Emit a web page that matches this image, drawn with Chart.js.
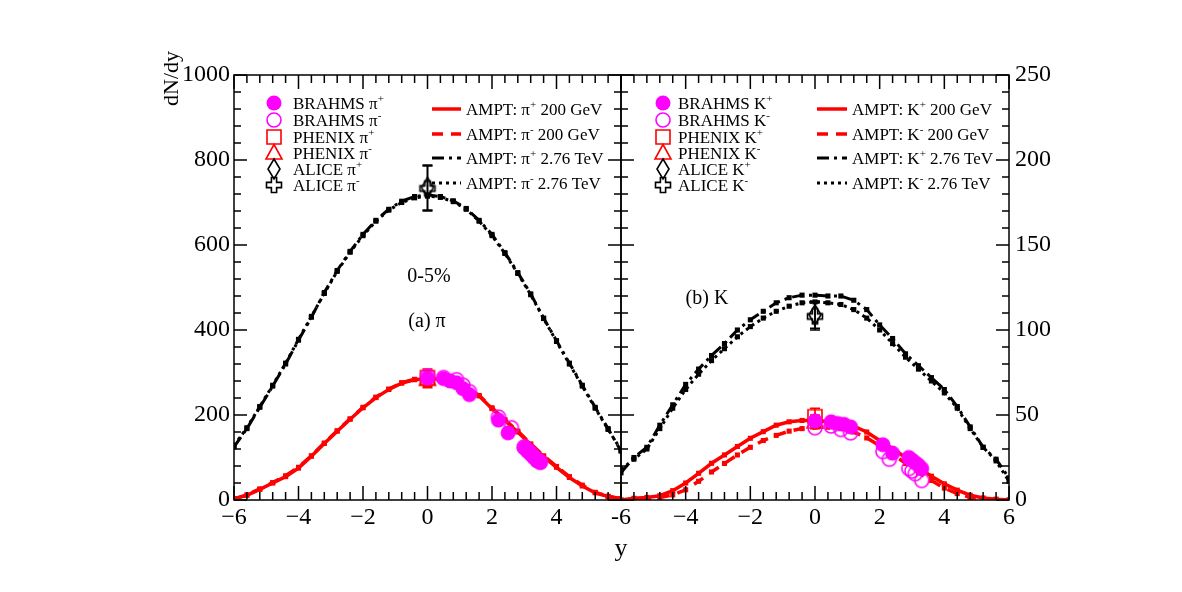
<!DOCTYPE html>
<html>
<head>
<meta charset="utf-8">
<script src="https://cdn.jsdelivr.net/npm/chart.js@4.4.1/dist/chart.umd.min.js"></script>
<style>
  body { margin: 0; background: #fff; }
  #wrap { position: relative; width: 1182px; height: 592px; }
  canvas { position: absolute; top: 0; }
  #piChart { left: 0; }
  #kChart { left: 600px; }
</style>
</head>
<body>
<div id="wrap">
  <canvas id="piChart" width="660" height="592"></canvas>
  <canvas id="kChart" width="582" height="592"></canvas>
</div>
<script>
// rapidity points of the AMPT curves
const rapidity = [-6.0, -5.6, -5.2, -4.8, -4.4, -4.0, -3.6, -3.2, -2.8, -2.4, -2.0, -1.6, -1.2, -0.8, -0.4, 0.0,
                  0.4, 0.8, 1.2, 1.6, 2.0, 2.4, 2.8, 3.2, 3.6, 4.0, 4.4, 4.8, 5.2, 5.6, 6.0];

// (a) pions, AMPT
const amptPiPlus200  = [3, 11, 25, 40, 55, 75, 103, 133, 162, 190, 217, 241, 260, 275, 283, 286, 284, 277, 265, 245, 215, 187, 160, 130, 102, 77, 53, 33, 17, 8, 3];
const amptPiMinus200 = [3, 12, 26, 41, 57, 77, 104, 134, 163, 191, 218, 242, 261, 276, 284, 287, 285, 278, 266, 246, 217, 189, 162, 132, 104, 79, 55, 35, 18, 9, 3];
const amptPiPlus276  = [125, 168, 218, 268, 320, 376, 430, 488, 540, 585, 625, 658, 684, 703, 714, 718, 714, 704, 686, 658, 625, 582, 535, 485, 428, 375, 322, 270, 218, 168, 115];
const amptPiMinus276 = [128, 170, 220, 270, 322, 378, 432, 486, 538, 583, 622, 656, 682, 700, 711, 715, 712, 702, 684, 656, 622, 580, 533, 483, 427, 373, 320, 268, 216, 166, 118];

// (a) pions, data
const brahmsPiPlusY  = [0.0, 0.5, 0.7, 0.9, 1.1, 1.3, 2.2, 2.5, 3.0, 3.1, 3.2, 3.3, 3.4, 3.5];
const brahmsPiPlus   = [287, 286, 280, 276, 262, 248, 188, 158, 123, 115, 108, 100, 92, 88];
const brahmsPiMinusY = [0.0, 0.5, 0.9, 1.1, 1.3, 2.2, 2.6, 3.0, 3.1, 3.2, 3.3, 3.4, 3.5];
const brahmsPiMinus  = [292, 288, 283, 270, 255, 195, 170, 125, 118, 110, 102, 95, 90];
const midRapidity = [0.0];
const phenixPiPlus = [288], phenixPiPlusErr = [20];
const phenixPiMinus = [284], phenixPiMinusErr = [20];
const alicePiPlus = [735], alicePiPlusErr = [53];
const alicePiMinus = [733], alicePiMinusErr = [53];

// (b) kaons, AMPT
const amptKPlus200  = [0, 1, 1.5, 2.5, 5.5, 10, 15.7, 21.6, 26.5, 31.5, 36.3, 40.2, 44, 46, 46.8, 46.8, 46.2, 45.2, 43.5, 40, 35, 30.3, 25, 19, 14, 9.5, 5.8, 2.8, 1.2, 0.5, 0];
const amptKMinus200 = [0, 0.3, 0.8, 1.5, 3, 6, 11, 16.5, 21.5, 26.5, 31, 35, 38, 40.5, 42, 42.8, 42.8, 42, 40, 36.5, 32, 27, 21.5, 16, 11.5, 7, 3.8, 1.5, 0.6, 0.2, 0];
const amptKPlus276  = [16, 25, 31, 44, 56, 68, 77, 85, 92, 100, 106, 111, 116, 119, 120.5, 120.5, 120, 120, 117.5, 112, 103, 95, 86, 79, 72, 65, 55, 43, 31, 24, 13];
const amptKMinus276 = [18, 24, 30, 42, 54, 65, 74, 82, 89, 96, 102, 107, 111, 114, 116, 116.5, 116, 115, 112, 107, 100, 92, 84, 77, 70, 63, 54, 42, 31, 23, 11];

// (b) kaons, data
const brahmsKPlusY  = [0.0, 0.5, 0.7, 0.9, 1.1, 2.1, 2.4, 2.9, 3.0, 3.1, 3.2, 3.3];
const brahmsKPlus   = [46.5, 46, 45, 44.5, 43, 32.5, 27.5, 25, 23.5, 22, 20.5, 18.5];
const brahmsKMinusY = [0.0, 0.5, 0.8, 1.1, 2.1, 2.3, 2.9, 3.0, 3.1, 3.3];
const brahmsKMinus  = [42.5, 43.5, 41.5, 39.5, 28.5, 24, 18.5, 17, 15.5, 11.5];
const phenixKPlus = [49], phenixKPlusErr = [5];
const phenixKMinus = [46], phenixKMinusErr = [4];
const aliceKPlus = [109], aliceKPlusErr = [8];
const aliceKMinus = [108], aliceKMinusErr = [8];

const xTicks = [-6, -4, -2, 0, 2, 4, 6];
const piTicks = [0, 200, 400, 600, 800, 1000];
const kTicks = [0, 50, 100, 150, 200, 250];

const SERIF = "'Liberation Serif', 'Times New Roman', serif";
const MAGENTA = '#ff00ff', RED = '#ff0000', BLACK = '#000000';

// hollow / filled markers, ROOT style
function marker(kind, color) {
  const s = 26, m = s / 2;
  const c = document.createElement('canvas');
  c.width = s; c.height = s;
  const g = c.getContext('2d');
  g.strokeStyle = color; g.fillStyle = color; g.lineWidth = 1.6;
  g.beginPath();
  if (kind === 'disc') { g.arc(m, m, 7.5, 0, 2 * Math.PI); g.fill(); return c; }
  if (kind === 'ring') g.arc(m, m, 7, 0, 2 * Math.PI);
  if (kind === 'square') g.rect(m - 7, m - 7, 14, 14);
  if (kind === 'triangle') { g.moveTo(m, m - 8.5); g.lineTo(m + 8, m + 6); g.lineTo(m - 8, m + 6); g.closePath(); }
  if (kind === 'diamond') { g.moveTo(m, m - 10); g.lineTo(m + 6, m); g.lineTo(m, m + 10); g.lineTo(m - 6, m); g.closePath(); }
  if (kind === 'cross') {
    const a = 2.6, b = 7.5;
    const pts = [[-a,-b],[a,-b],[a,-a],[b,-a],[b,a],[a,a],[a,b],[-a,b],[-a,a],[-b,a],[-b,-a],[-a,-a]];
    pts.forEach((p, i) => i ? g.lineTo(m + p[0], m + p[1]) : g.moveTo(m + p[0], m + p[1]));
    g.closePath();
  }
  g.stroke();
  return c;
}

function pts(xs, ys) { return xs.map((x, i) => ({ x: x, y: ys[i] })); }

function dataSet(label, xs, ys, style, color, errs) {
  return {
    label: label, data: pts(xs, ys), errors: errs || null, errColor: color,
    showLine: false, pointStyle: marker(style, color), pointRadius: 8,
    borderColor: color, backgroundColor: color
  };
}

function amptSet(label, ys, color, dash, width) {
  return {
    label: label, data: pts(rapidity, ys), showLine: true, tension: 0,
    borderColor: color, backgroundColor: color, borderWidth: width, borderDash: dash,
    pointStyle: 'rect', pointRadius: 3.6, pointBackgroundColor: color, pointBorderWidth: 0
  };
}

// label text with ^x superscripts
function drawRich(ctx, str, x, y, size, align) {
  const parts = [];
  for (let i = 0; i < str.length; i++) {
    if (str[i] === '^') { parts.push({ t: str[i + 1], sup: true }); i++; }
    else if (parts.length && !parts[parts.length - 1].sup) parts[parts.length - 1].t += str[i];
    else parts.push({ t: str[i], sup: false });
  }
  const supSize = Math.round(size * 0.65);
  let w = 0;
  parts.forEach(p => { ctx.font = (p.sup ? supSize : size) + 'px ' + SERIF; p.w = ctx.measureText(p.t).width; w += p.w; });
  let cx = align === 'center' ? x - w / 2 : (align === 'right' ? x - w : x);
  ctx.textAlign = 'left';
  ctx.textBaseline = 'alphabetic';
  parts.forEach(p => {
    ctx.font = (p.sup ? supSize : size) + 'px ' + SERIF;
    ctx.fillText(p.t, cx, p.sup ? y - size * 0.42 : y);
    cx += p.w;
  });
}

const panelDecor = {
  id: 'panelDecor',
  beforeDatasetsDraw(chart) {
    const ctx = chart.ctx, ys = chart.scales.y;
    chart.data.datasets.forEach((ds, di) => {
      if (!ds.errors) return;
      const meta = chart.getDatasetMeta(di);
      ctx.save();
      ctx.strokeStyle = ds.errColor; ctx.lineWidth = 1.6;
      ds.data.forEach((p, i) => {
        const px = meta.data[i].x;
        const y1 = ys.getPixelForValue(p.y - ds.errors[i]), y2 = ys.getPixelForValue(p.y + ds.errors[i]);
        ctx.beginPath();
        ctx.moveTo(px, y1); ctx.lineTo(px, y2);
        ctx.moveTo(px - 5, y1); ctx.lineTo(px + 5, y1);
        ctx.moveTo(px - 5, y2); ctx.lineTo(px + 5, y2);
        ctx.stroke();
      });
      ctx.restore();
    });
  },
  afterDraw(chart, args, opts) {
    const ctx = chart.ctx, a = chart.chartArea, xs = chart.scales.x, ys = chart.scales.y;
    ctx.save();
    ctx.strokeStyle = BLACK; ctx.lineWidth = 1.5;
    ctx.strokeRect(a.left, a.top, a.right - a.left, a.bottom - a.top);
    // ticks, inside, on all four sides
    ctx.beginPath();
    const nx = Math.round((xs.max - xs.min) / opts.xMinor);
    for (let i = 0; i <= nx; i++) {
      const v = xs.min + i * opts.xMinor, px = xs.getPixelForValue(v);
      const len = Math.abs(v / opts.xMajor - Math.round(v / opts.xMajor)) < 1e-6 ? 14 : 8;
      ctx.moveTo(px, a.bottom); ctx.lineTo(px, a.bottom - len);
      ctx.moveTo(px, a.top); ctx.lineTo(px, a.top + len);
    }
    const ny = Math.round((ys.max - ys.min) / opts.yMinor);
    for (let i = 0; i <= ny; i++) {
      const v = ys.min + i * opts.yMinor, py = ys.getPixelForValue(v);
      const len = Math.abs(v / opts.yMajor - Math.round(v / opts.yMajor)) < 1e-6 ? 13 : 7;
      ctx.moveTo(a.left, py); ctx.lineTo(a.left + len, py);
      ctx.moveTo(a.right, py); ctx.lineTo(a.right - len, py);
    }
    ctx.stroke();

    ctx.fillStyle = BLACK;
    (opts.texts || []).forEach(t => {
      if (t.rot) {
        ctx.save(); ctx.translate(t.x, t.y); ctx.rotate(-Math.PI / 2);
        drawRich(ctx, t.t, 0, 0, t.size, 'left');
        ctx.restore();
      } else drawRich(ctx, t.t, t.x, t.y, t.size, t.align || 'left');
    });

    // legend
    const L = opts.legend;
    const ds = chart.data.datasets;
    L.markerRows.forEach((ry, i) => {
      const st = ds[i].pointStyle;
      ctx.drawImage(st, L.markerX - st.width / 2, ry - st.height / 2);
      drawRich(ctx, ds[i].label, L.textX, ry + 6, L.size, 'left');
    });
    L.lineRows.forEach((ry, j) => {
      const d = ds[L.lineStart + j];
      ctx.save();
      ctx.strokeStyle = d.borderColor; ctx.lineWidth = d.borderWidth; ctx.setLineDash(d.borderDash || []);
      ctx.beginPath(); ctx.moveTo(L.lineX1, ry); ctx.lineTo(L.lineX2, ry); ctx.stroke();
      ctx.restore();
      drawRich(ctx, d.label, L.lineTextX, ry + 6, L.size, 'left');
    });
    ctx.restore();
  }
};

function fmtX(v) { return v < 0 ? '\u2212' + Math.abs(v) : String(v); }

function makePanel(id, datasets, o) {
  return new Chart(document.getElementById(id), {
    type: 'scatter',
    data: { datasets: datasets },
    options: {
      responsive: false, animation: false, events: [],
      layout: { padding: o.padding },
      scales: {
        x: {
          type: 'linear', min: -6, max: 6,
          afterBuildTicks: s => { s.ticks = xTicks.map(v => ({ value: v })); },
          afterFit: s => { s.height = 92; },
          grid: { display: false, drawTicks: false }, border: { display: false },
          ticks: { font: { family: SERIF, size: 24 }, color: BLACK, padding: 3, maxRotation: 0, autoSkip: false, callback: o.xLabel }
        },
        y: {
          type: 'linear', position: o.yPos, min: 0, max: o.yMax,
          afterBuildTicks: s => { s.ticks = o.yTicks.map(v => ({ value: v })); },
          afterFit: s => { s.width = o.yWidth; },
          grid: { display: false, drawTicks: false }, border: { display: false },
          ticks: { font: { family: SERIF, size: 24 }, color: BLACK, padding: o.yPad, autoSkip: false, callback: v => String(v) }
        }
      },
      plugins: { legend: { display: false }, tooltip: { enabled: false }, panelDecor: o.decor }
    },
    plugins: [panelDecor]
  });
}

makePanel('piChart', [
  dataSet('BRAHMS \u03c0^+', brahmsPiPlusY, brahmsPiPlus, 'disc', MAGENTA),
  dataSet('BRAHMS \u03c0^-', brahmsPiMinusY, brahmsPiMinus, 'ring', MAGENTA),
  dataSet('PHENIX \u03c0^+', midRapidity, phenixPiPlus, 'square', RED, phenixPiPlusErr),
  dataSet('PHENIX \u03c0^-', midRapidity, phenixPiMinus, 'triangle', RED, phenixPiMinusErr),
  dataSet('ALICE \u03c0^+', midRapidity, alicePiPlus, 'diamond', BLACK, alicePiPlusErr),
  dataSet('ALICE \u03c0^-', midRapidity, alicePiMinus, 'cross', BLACK, alicePiMinusErr),
  amptSet('AMPT: \u03c0^+ 200 GeV', amptPiPlus200, RED, [], 3.5),
  amptSet('AMPT: \u03c0^- 200 GeV', amptPiMinus200, RED, [11, 8], 3.5),
  amptSet('AMPT: \u03c0^+ 2.76 TeV', amptPiPlus276, BLACK, [12, 5, 3, 5], 3),
  amptSet('AMPT: \u03c0^- 2.76 TeV', amptPiMinus276, BLACK, [3, 4], 3)
], {
  padding: { left: 0, right: 39, top: 75, bottom: 0 },
  yPos: 'left', yMax: 1000, yTicks: piTicks, yWidth: 234, yPad: 4,
  xLabel: v => (v === 6 ? '' : fmtX(v)),
  decor: {
    xMinor: 0.4, xMajor: 2, yMinor: 40, yMajor: 200,
    texts: [
      { t: 'dN/dy', x: 178, y: 106, size: 22, rot: true },
      { t: '0-5%', x: 429, y: 282, size: 20, align: 'center' },
      { t: '(a) \u03c0', x: 427, y: 327, size: 20, align: 'center' },
      { t: 'y', x: 621, y: 556, size: 26, align: 'center' }
    ],
    legend: {
      markerX: 274, textX: 293, size: 17, markerRows: [103, 120, 137, 153, 169, 185],
      lineStart: 6, lineX1: 432, lineX2: 461, lineTextX: 466, lineRows: [109, 134, 158, 183]
    }
  }
});

makePanel('kChart', [
  dataSet('BRAHMS K^+', brahmsKPlusY, brahmsKPlus, 'disc', MAGENTA),
  dataSet('BRAHMS K^-', brahmsKMinusY, brahmsKMinus, 'ring', MAGENTA),
  dataSet('PHENIX K^+', midRapidity, phenixKPlus, 'square', RED, phenixKPlusErr),
  dataSet('PHENIX K^-', midRapidity, phenixKMinus, 'triangle', RED, phenixKMinusErr),
  dataSet('ALICE K^+', midRapidity, aliceKPlus, 'diamond', BLACK, aliceKPlusErr),
  dataSet('ALICE K^-', midRapidity, aliceKMinus, 'cross', BLACK, aliceKMinusErr),
  amptSet('AMPT: K^+ 200 GeV', amptKPlus200, RED, [], 3.5),
  amptSet('AMPT: K^- 200 GeV', amptKMinus200, RED, [11, 8], 3.5),
  amptSet('AMPT: K^+ 2.76 TeV', amptKPlus276, BLACK, [12, 5, 3, 5], 3),
  amptSet('AMPT: K^- 2.76 TeV', amptKMinus276, BLACK, [3, 4], 3)
], {
  padding: { left: 21, right: 123, top: 75, bottom: 0 },
  yPos: 'right', yMax: 250, yTicks: kTicks, yWidth: 50, yPad: 6,
  xLabel: v => (v === -6 ? '-6' : fmtX(v)),
  decor: {
    xMinor: 0.4, xMajor: 2, yMinor: 10, yMajor: 50,
    texts: [
      { t: '(b) K', x: 107, y: 304, size: 20, align: 'center' }
    ],
    legend: {
      markerX: 63, textX: 78, size: 17, markerRows: [103, 120, 137, 153, 169, 185],
      lineStart: 6, lineX1: 217, lineX2: 247, lineTextX: 252, lineRows: [109, 134, 158, 183]
    }
  }
});
</script>
</body>
</html>
